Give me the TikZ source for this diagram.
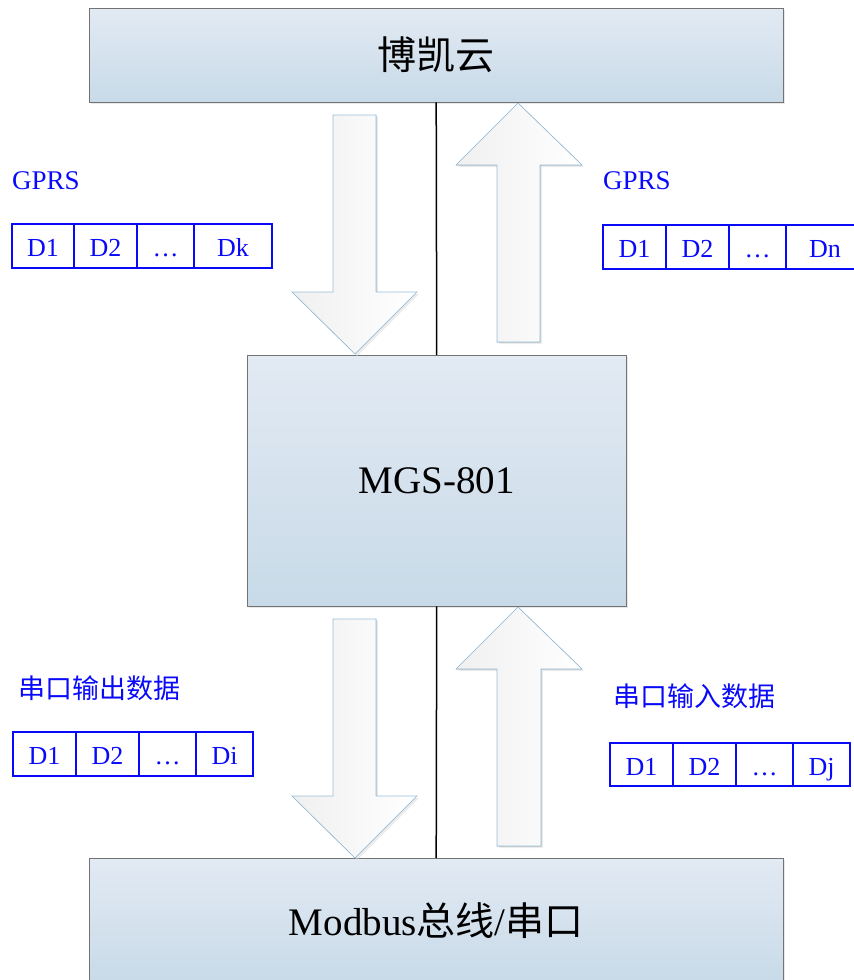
\documentclass[tikz,border=0pt]{standalone}
\usepackage{fontspec}
\setmainfont{Liberation Serif}
\newfontfamily\cjk{Noto Sans CJK SC}
\usepackage{xcolor}
\usepackage{tikz}
\usetikzlibrary{positioning,shadows}

\definecolor{datablue}{RGB}{10,10,250}
\definecolor{boxtop}{RGB}{226,234,243}
\definecolor{boxbottom}{RGB}{200,218,232}
\definecolor{arrowline}{RGB}{150,190,218}

\begin{document}
\begin{tikzpicture}[
    x=1pt, y=-1pt,
    block/.style={rectangle, draw=gray!90!black, top color=boxtop, bottom color=boxbottom, anchor=north west, inner sep=0pt, font=\fontsize{39}{44}\selectfont, drop shadow={shadow xshift=2pt, shadow yshift=-2pt, fill=gray!35}},
    cell/.style={rectangle, draw=datablue, line width=1.2pt, text=datablue, outer sep=0pt, inner sep=0pt, minimum height=44pt, text height=23pt, text depth=2pt, font=\fontsize{26}{30}\selectfont},
    label/.style={anchor=west, inner sep=0pt, text=datablue, font=\fontsize{27}{30}\selectfont},
    bigarrow/.style={draw=arrowline, line width=0.6pt, left color=gray!12, right color=white, drop shadow={shadow xshift=2pt, shadow yshift=-2pt, fill=gray!30}},
    link/.style={line width=1.5pt, black},
]
\useasboundingbox (0,0) rectangle (854,980);

% Main blocks
\node[block, minimum width=694pt, minimum height=94pt] (cloud) at (89,8) {\cjk 博凯云};
\node[block, minimum width=379pt, minimum height=251pt] (mgs) at (247,355) {MGS-801};
\node[block, minimum width=694pt, minimum height=124pt] (bus) at (89,858) {Modbus{\cjk 总线}/{\cjk 串口}};

% Links
\draw[link] (cloud.south) -- (mgs.north);
\draw[link] (mgs.south) -- (bus.north);

% Block arrows, GPRS side
\filldraw[bigarrow] (333,115) -- (376,115) -- (376,292) -- (417,292) -- (355,354) -- (292,292) -- (333,292) -- cycle;
\filldraw[bigarrow] (518,103) -- (582,165) -- (540,165) -- (540,342) -- (497,342) -- (497,165) -- (456,165) -- cycle;

% Block arrows, serial side
\filldraw[bigarrow] (333,619) -- (376,619) -- (376,796) -- (417,796) -- (355,858) -- (292,796) -- (333,796) -- cycle;
\filldraw[bigarrow] (518,607) -- (582,669) -- (541,669) -- (541,846) -- (497,846) -- (497,669) -- (456,669) -- cycle;

% Downlink frame
\node[label] (gprsdown) at (12,181) {GPRS};
\node[cell, minimum width=62pt, anchor=north west] (k1) at (12,224) {D1};
\node[cell, minimum width=63pt, right=0pt of k1] (k2) {D2};
\node[cell, minimum width=57pt, right=0pt of k2] (k3) {\ldots};
\node[cell, minimum width=78pt, right=0pt of k3] (k4) {Dk};

% Uplink frame
\node[label] (gprsup) at (603,181) {GPRS};
\node[cell, minimum width=63pt, anchor=north west] (n1) at (603,225) {D1};
\node[cell, minimum width=63pt, right=0pt of n1] (n2) {D2};
\node[cell, minimum width=57pt, right=0pt of n2] (n3) {\ldots};
\node[cell, minimum width=78pt, right=0pt of n3] (n4) {Dn};

% Serial output frame
\node[label] (serout) at (18,688) {\cjk 串口输出数据};
\node[cell, minimum width=63pt, anchor=north west] (i1) at (13,732) {D1};
\node[cell, minimum width=63pt, right=0pt of i1] (i2) {D2};
\node[cell, minimum width=57pt, right=0pt of i2] (i3) {\ldots};
\node[cell, minimum width=57pt, right=0pt of i3] (i4) {Di};

% Serial input frame
\node[label] (serin) at (613,696) {\cjk 串口输入数据};
\node[cell, minimum width=63pt, minimum height=43pt, anchor=north west] (j1) at (610,743) {D1};
\node[cell, minimum width=63pt, minimum height=43pt, right=0pt of j1] (j2) {D2};
\node[cell, minimum width=57pt, minimum height=43pt, right=0pt of j2] (j3) {\ldots};
\node[cell, minimum width=57pt, minimum height=43pt, right=0pt of j3] (j4) {Dj};

\end{tikzpicture}
\end{document}
